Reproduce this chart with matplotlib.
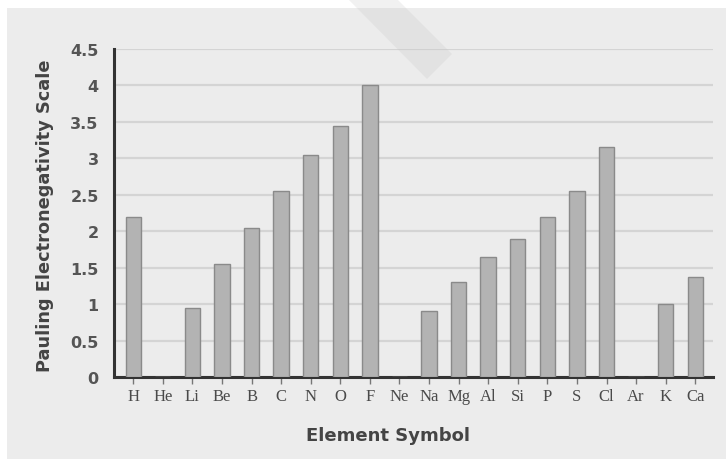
import matplotlib.pyplot as plt
from matplotlib.patches import Rectangle, Polygon

symbols = ['H', 'He', 'Li', 'Be', 'B', 'C', 'N', 'O', 'F', 'Ne',
           'Na', 'Mg', 'Al', 'Si', 'P', 'S', 'Cl', 'Ar', 'K', 'Ca']
electroneg = [2.2, 0, 0.95, 1.55, 2.05, 2.55, 3.05, 3.45, 4.0, 0,
              0.9, 1.3, 1.65, 1.9, 2.2, 2.55, 3.15, 0, 1.0, 1.37]
yticks = [0, 0.5, 1, 1.5, 2, 2.5, 3, 3.5, 4, 4.5]
ytick_labels = ['0', '0.5', '1', '1.5', '2', '2.5', '3', '3.5', '4', '4.5']

bg = '#ececec'
W, H = 726, 460

def px(x, y):
    # pixel position (from top-left) -> figure fraction
    return (x / W, 1 - y / H)

fig = plt.figure(figsize=(7.26, 4.6), dpi=100, facecolor='white')
# grey panel behind the chart
fig.patches.append(Rectangle((7 / W, 0), 1 - 7 / W, 1 - 9 / H,
                             transform=fig.transFigure, facecolor=bg,
                             edgecolor='none', zorder=-5))
# faint diagonal watermark stripe at the top
fig.patches.append(Polygon([px(348, 0), px(397, 0), px(452, 55), px(427, 80)],
                           closed=True, transform=fig.transFigure,
                           facecolor='#c8c8c8', alpha=0.25, edgecolor='none',
                           zorder=10))

ax = fig.add_axes([114 / W, (H - 378) / H, (713 - 114) / W, (378 - 50) / H])
ax.set_facecolor(bg)

x = range(len(symbols))
ax.bar(x, electroneg, width=0.52, color='#b3b3b3', edgecolor='#8a8a8a',
       linewidth=1.0, zorder=3)

ax.set_xlim(-0.65, 19.6)
ax.set_ylim(0, 4.5)
ax.set_yticks(yticks)
ax.set_yticklabels(ytick_labels)
ax.set_xticks(list(x))
ax.set_xticklabels(symbols, fontfamily='Liberation Serif', fontsize=12,
                   color='#4a4a4a')
ax.yaxis.grid(True, color='#d4d4d4', linewidth=1.6, zorder=0)
ax.set_axisbelow(True)

for s in ['top', 'right']:
    ax.spines[s].set_visible(False)
for s in ['left', 'bottom']:
    ax.spines[s].set_color('#333333')
    ax.spines[s].set_linewidth(2.2)

ax.tick_params(axis='y', length=0, pad=11, labelsize=11.5, labelcolor='#555555')
ax.tick_params(axis='x', length=5, width=1, color='#777777', pad=3)
for lbl in ax.get_yticklabels():
    lbl.set_fontweight('bold')

ax.set_ylabel('Pauling Electronegativity Scale', fontsize=12.8,
              fontweight='bold', color='#444444')
ax.yaxis.set_label_coords(-0.100, 0.495)
ax.set_xlabel('Element Symbol', fontsize=13, fontweight='bold',
              color='#444444')
ax.xaxis.set_label_coords(0.457, -0.15)

fig.savefig('out.png', dpi=100, facecolor=fig.get_facecolor())
